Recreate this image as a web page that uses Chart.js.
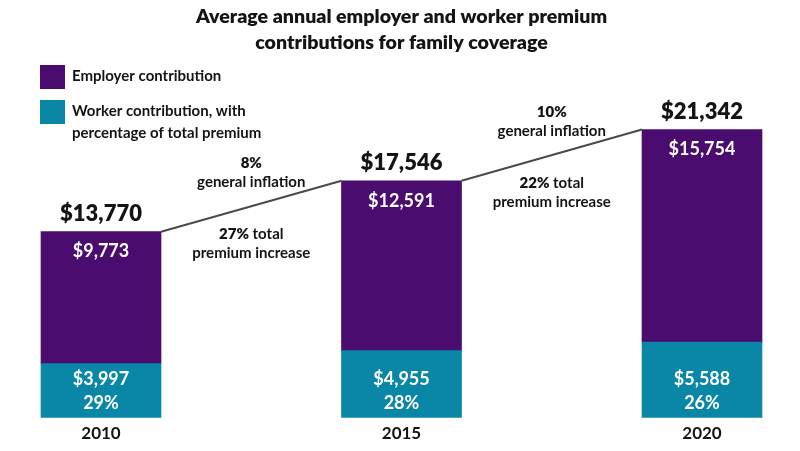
<!DOCTYPE html>
<html>
<head>
<meta charset="utf-8">
<script src="https://cdn.jsdelivr.net/npm/chart.js@4.4.1/dist/chart.umd.min.js"></script>
<style>
  html, body { margin: 0; padding: 0; background: #fff; }
  #wrap { width: 800px; height: 451px; position: relative; }
</style>
</head>
<body>
<div id="wrap"><canvas id="premiums"></canvas></div>
<script>
// Chart data
const years = ['2010', '2015', '2020'];
const employerValues = [9773, 12591, 15754];
const workerValues = [3997, 4955, 5588];
const workerShares = [29, 28, 26];
const inflationLabels = ['8%', '10%'];
const increaseLabels = ['27%', '22%'];
const employerLegend = ['Employer contribution'];
const workerLegend = ['Worker contribution, with', 'percentage of total premium'];

const purple = '#4a0c6e';
const teal = '#0a87a6';
const ink = '#141414';
const FONT = 'Lato, "Open Sans", sans-serif';

const money = v => '$' + v.toLocaleString('en-US');

// draws the text from several pieces, each with its own weight, centred on x
function drawMixed(ctx, parts, x, y, size) {
    let widths = parts.map(p => {
        ctx.font = p.weight + ' ' + size + 'px ' + FONT;
        return ctx.measureText(p.text).width;
    });
    let total = widths.reduce((a, b) => a + b, 0);
    let cx = x - total / 2;
    ctx.textAlign = 'left';
    parts.forEach((p, i) => {
        ctx.font = p.weight + ' ' + size + 'px ' + FONT;
        ctx.fillText(p.text, cx, y);
        cx += widths[i];
    });
}

const legendPlugin = {
    id: 'sideLegend',
    afterDraw(chart) {
        const ctx = chart.ctx;
        const items = [
            { color: purple, lines: employerLegend, top: 65 },
            { color: teal, lines: workerLegend, top: 100 }
        ];
        ctx.save();
        items.forEach(item => {
            ctx.fillStyle = item.color;
            ctx.fillRect(40, item.top, 25, 24);
            ctx.fillStyle = ink;
            ctx.font = '700 15px ' + FONT;
            ctx.textAlign = 'left';
            ctx.textBaseline = 'middle';
            item.lines.forEach((line, j) => {
                ctx.fillText(line, 72, item.top + 11 + j * 22);
            });
        });
        ctx.restore();
    }
};

const barLabelPlugin = {
    id: 'barLabels',
    afterDatasetsDraw(chart) {
        const ctx = chart.ctx;
        const workerMeta = chart.getDatasetMeta(0);
        const employerMeta = chart.getDatasetMeta(1);
        ctx.save();
        ctx.textBaseline = 'middle';

        // lines joining the tops of the bars, with their notes
        for (let i = 0; i < years.length - 1; i++) {
            const a = employerMeta.data[i];
            const b = employerMeta.data[i + 1];
            const x1 = a.x + a.width / 2, y1 = a.y;
            const x2 = b.x - b.width / 2, y2 = b.y;
            ctx.strokeStyle = '#4a4a4a';
            ctx.lineWidth = 2;
            ctx.beginPath();
            ctx.moveTo(x1, y1);
            ctx.lineTo(x2, y2);
            ctx.stroke();

            const mx = (x1 + x2) / 2, my = (y1 + y2) / 2;
            ctx.fillStyle = ink;
            drawMixed(ctx, [{ text: inflationLabels[i], weight: '800' }], mx, my - 43, 15);
            drawMixed(ctx, [{ text: 'general inflation', weight: '700' }], mx, my - 24, 15);
            drawMixed(ctx, [{ text: increaseLabels[i], weight: '800' }, { text: ' total', weight: '700' }], mx, my + 28, 15);
            drawMixed(ctx, [{ text: 'premium increase', weight: '700' }], mx, my + 47, 15);
        }

        ctx.textAlign = 'center';
        years.forEach((y, i) => {
            const top = employerMeta.data[i];
            const bottom = workerMeta.data[i];
            ctx.fillStyle = ink;
            ctx.font = '800 22px ' + FONT;
            ctx.fillText(money(employerValues[i] + workerValues[i]), top.x, top.y - 18);

            ctx.fillStyle = '#ffffff';
            ctx.font = '700 18px ' + FONT;
            ctx.fillText(money(employerValues[i]), top.x, top.y + 20);
            ctx.fillText(money(workerValues[i]), bottom.x, bottom.base - 38.5);
            ctx.fillText(workerShares[i] + '%', bottom.x, bottom.base - 14.5);
        });
        ctx.restore();
    }
};

let ctx = document.getElementById('premiums').getContext('2d');
let premiumChart = new Chart(ctx, {
    type: 'bar',
    data: {
        labels: years,
        datasets: [{
            label: workerLegend.join(' '),
            data: workerValues,
            backgroundColor: teal,
            barThickness: 120,
            clip: false
        }, {
            label: employerLegend.join(' '),
            data: employerValues,
            backgroundColor: purple,
            barThickness: 120,
            clip: false
        }]
    },
    options: {
        responsive: true,
        maintainAspectRatio: false,
        animation: false,
        layout: {
            padding: { left: 101, right: 98, top: 0, bottom: 0 }
        },
        plugins: {
            legend: { display: false },
            tooltip: { enabled: false },
            title: {
                display: true,
                text: ['Average annual employer and worker premium', 'contributions for family coverage'],
                color: ink,
                font: { family: FONT, size: 19.6, weight: '800', lineHeight: 1.33 },
                padding: { top: 4, bottom: 24 }
            }
        },
        scales: {
            x: {
                stacked: true,
                offset: false,
                grid: { display: false, drawTicks: false },
                border: { display: false },
                ticks: {
                    color: ink,
                    padding: 6,
                    font: { family: FONT, size: 17, weight: '700' }
                },
                afterFit(scale) { scale.height = 33.5; }
            },
            y: {
                stacked: true,
                display: false,
                min: 0,
                max: 25000
            }
        }
    },
    plugins: [legendPlugin, barLabelPlugin]
});
</script>
</body>
</html>
